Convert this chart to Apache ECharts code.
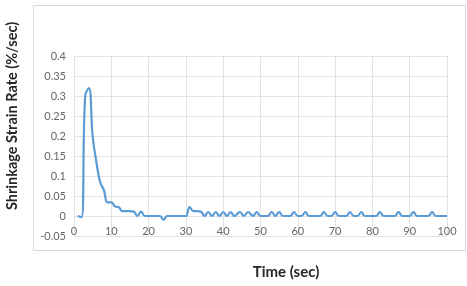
<!DOCTYPE html>
<html>
<head>
<meta charset="utf-8">
<script src="https://cdn.jsdelivr.net/npm/echarts@6/dist/echarts.min.js"></script>
<style>html,body{margin:0;padding:0;background:#fff}#c{width:467px;height:286px}</style>
</head>
<body>
<div id="c"></div>
<script>
const timeSec = [1, 2, 3, 4, 5, 6, 7, 8, 9, 10, 11, 12, 13, 14, 15, 16, 17, 18, 19, 20, 21, 22, 23, 24, 25, 26, 27, 28, 29, 30,
  31, 32, 33, 34, 35, 36, 37, 38, 39, 40, 41, 42, 43, 44.5, 45.5, 46.7, 48, 49, 50, 52, 53, 54, 55, 56, 58, 59, 60, 61, 62, 63,
  66, 67, 68, 69, 70, 71, 73, 74, 75, 76, 77, 78, 81, 82, 83, 86, 87, 88, 90, 91, 92, 95, 96, 97, 100];
const strainRate = [0, -0.003, 0.30, 0.32, 0.20, 0.135, 0.085, 0.065, 0.034, 0.034, 0.024, 0.022, 0.012, 0.012, 0.012, 0.011, 0, 0.011, 0, 0, 0, 0, 0, -0.009, 0, 0, 0, 0, 0, 0,
  0.022, 0.012, 0.012, 0.011, 0, 0.01, 0, 0.01, 0, 0.01, 0, 0.01, 0, 0.01, 0, 0.01, 0, 0.01, 0, 0, 0.01, 0, 0.01, 0, 0, 0.01, 0, 0, 0.01, 0,
  0, 0.01, 0, 0, 0.01, 0, 0, 0.01, 0, 0, 0.01, 0, 0, 0.01, 0, 0, 0.01, 0, 0, 0.01, 0, 0, 0.01, 0, 0];
const yTitle = 'Shrinkage Strain Rate (%/sec)';
const xTitle = 'Time (sec)';

const chart = echarts.init(document.getElementById('c'), null, {renderer: 'canvas'});
const pts = timeSec.map((t, i) => [t, strainRate[i]]);
const font = 'Lato, "Liberation Sans", sans-serif';
chart.setOption({
  animation: false,
  backgroundColor: '#fff',
  grid: {left: 74, right: 20, top: 56, bottom: 50, containLabel: false},
  xAxis: {
    type: 'value', min: 0, max: 100, interval: 10,
    axisLine: {show: false, onZero: false},
    axisTick: {show: false},
    axisLabel: {color: '#666', fontSize: 11, fontFamily: font, inside: true, margin: -1},
    splitLine: {show: true, lineStyle: {color: '#e3e3e3'}}
  },
  yAxis: {
    type: 'value', min: -0.05, max: 0.4, interval: 0.05,
    axisLine: {show: false},
    axisTick: {show: false},
    axisLabel: {color: '#666', fontSize: 11, fontFamily: font, margin: 8},
    splitLine: {show: true, lineStyle: {color: '#e3e3e3'}}
  },
  series: [{
    type: 'line', data: pts, smooth: 0.45, showSymbol: false,
    lineStyle: {color: '#5B9BD5', width: 2.2}
  }],
  graphic: [
    {type: 'rect', shape: {x: 33.5, y: 5.5, width: 432, height: 245}, style: {fill: 'none', stroke: '#d9d9d9', lineWidth: 1}, silent: true},
    {type: 'text', x: 12, y: 116, rotation: Math.PI / 2,
      style: {text: yTitle, fontFamily: font, fontWeight: 'bold', fontSize: 14.5, fill: '#262626', align: 'center', verticalAlign: 'middle'}},
    {type: 'text', x: 286, y: 272,
      style: {text: xTitle, fontFamily: font, fontWeight: 'bold', fontSize: 15, fill: '#262626', align: 'center', verticalAlign: 'middle'}}
  ]
});
</script>
</body>
</html>
